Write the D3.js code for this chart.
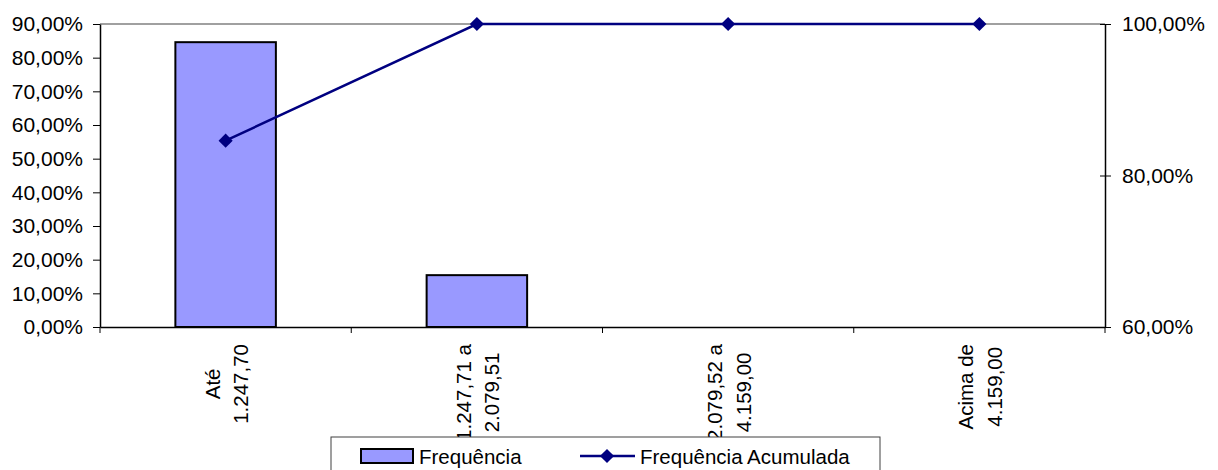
<!DOCTYPE html>
<html><head><meta charset="utf-8">
<script src="https://cdn.jsdelivr.net/npm/d3@7"></script>
<style>
body{margin:0;background:#fff;}
svg{display:block;font-family:"Liberation Sans",Arial,sans-serif;}
</style></head><body>
<svg id="c" width="1218" height="470"></svg>
<script>
const categories = [["Até","1.247,70"],["1.247,71 a","2.079,51"],["2.079,52 a","4.159,00"],["Acima de","4.159,00"]];
const frequencia = [0.846, 0.154, 0, 0];
const acumulada = [0.846, 1.0, 1.0, 1.0];
const leftTicks = [0,0.1,0.2,0.3,0.4,0.5,0.6,0.7,0.8,0.9];
const rightTicks = [0.6,0.8,1.0];
const seriesNames = ["Frequência","Frequência Acumulada"];

const svg = d3.select("#c");
const L=100, R=1105, T=24, B=327;
const fmt = v => d3.format(".2f")(v*100).replace(".",",")+"%";

const x = d3.scaleBand().domain(d3.range(categories.length)).range([L,R]).padding(0);
const yL = d3.scaleLinear().domain([0,0.9]).range([B,T]);
const yR = d3.scaleLinear().domain([0.6,1.0]).range([B,T]);

// top border
svg.append("line").attr("x1",L).attr("x2",R).attr("y1",T).attr("y2",T).attr("stroke","#808080").attr("stroke-width",1.5);

// bars
const bw = x.bandwidth()*0.4;
svg.selectAll("rect.bar").data(frequencia.map((v,i)=>({v,i})).filter(d=>d.v>0)).join("rect")
  .attr("class","bar")
  .attr("x",d=>x(d.i)+x.bandwidth()/2-bw/2).attr("width",bw)
  .attr("y",d=>yL(d.v)).attr("height",d=>B-yL(d.v))
  .attr("fill","#9999FF").attr("stroke","#000").attr("stroke-width",2);

// left axis
const gL = svg.append("g").attr("transform",`translate(${L},0)`)
  .call(d3.axisLeft(yL).tickValues(leftTicks).tickFormat(fmt).tickSize(7).tickSizeOuter(0));
// right axis
const gR = svg.append("g").attr("transform",`translate(${R},0)`)
  .call(d3.axisRight(yR).tickValues(rightTicks).tickFormat(fmt).tickSize(6).tickSizeOuter(0));
gR.selectAll(".tick line").attr("x1",-5);
// bottom axis
const gB = svg.append("g").attr("transform",`translate(0,${B})`)
  .call(d3.axisBottom(x).tickValues([]).tickSizeOuter(0));
gB.selectAll(".boundary").data(d3.range(categories.length+1)).join("line")
  .attr("x1",i=>L+i*x.step()).attr("x2",i=>L+i*x.step()).attr("y1",0).attr("y2",6).attr("stroke","#000");

[gL,gR,gB].forEach(g=>{
  g.selectAll(".domain").attr("stroke","#000").attr("stroke-width",1.5);
  g.selectAll(".tick line").attr("stroke","#000");
  g.selectAll("text").attr("fill","#000").attr("font-size","21px").attr("font-family","Liberation Sans, Arial, sans-serif");
});
gL.selectAll(".tick text").attr("x",-17);
gR.selectAll(".tick text").attr("x",17);

// category labels
categories.forEach((lines,i)=>{
  const cx = x(i)+x.bandwidth()/2;
  const g = svg.append("g").attr("transform",`translate(${cx},344) rotate(-90)`);
  const ts = lines.map((s,j)=>g.append("text").text(s).attr("font-size","20.5px").attr("fill","#000").attr("y", j===0?-6:22.5));
  const maxLen = d3.max(ts,t=>t.node().getComputedTextLength());
  ts.forEach(t=>t.attr("text-anchor","middle").attr("x",-maxLen/2));
});

// line
const pts = acumulada.map((v,i)=>[x(i)+x.bandwidth()/2, yR(v)]);
svg.append("path").attr("d",d3.line()(pts)).attr("fill","none").attr("stroke","#000080").attr("stroke-width",2.5);
svg.selectAll("path.mk").data(pts).join("path").attr("class","mk")
  .attr("d",d3.symbol().type(d3.symbolSquare).size(100)).attr("transform",d=>`translate(${d[0]},${d[1]}) rotate(45)`)
  .attr("fill","#000080");

// legend
const lg = svg.append("g");
lg.append("rect").attr("x",331).attr("y",437).attr("width",549).attr("height",45).attr("fill","#fff").attr("stroke","#404040").attr("stroke-width",1);
lg.append("rect").attr("x",361).attr("y",449).attr("width",52).attr("height",14).attr("fill","#9999FF").attr("stroke","#000").attr("stroke-width",2);
lg.append("text").attr("x",419).attr("y",463.5).attr("font-size","20.5px").text(seriesNames[0]);
lg.append("line").attr("x1",580).attr("x2",635).attr("y1",456).attr("y2",456).attr("stroke","#000080").attr("stroke-width",2.5);
lg.append("path").attr("d",d3.symbol().type(d3.symbolSquare).size(100)).attr("transform","translate(607,456) rotate(45)").attr("fill","#000080");
lg.append("text").attr("x",640).attr("y",463.5).attr("font-size","20.5px").text(seriesNames[1]);
</script></body></html>
